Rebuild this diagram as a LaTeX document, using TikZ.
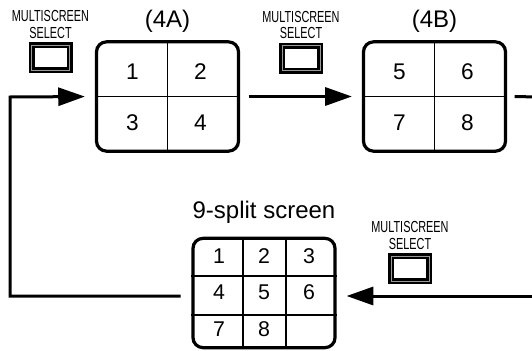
\documentclass[tikz,border=0pt]{standalone}
\usepackage{fontspec}
\setmainfont{Liberation Sans}
\usetikzlibrary{arrows.meta,positioning,calc}
\definecolor{MSRing}{HTML}{9A9A9A}
\newcommand{\selname}{\scalebox{0.68}[1]{MULTISCREEN}\\\scalebox{0.68}[1]{SELECT}}

\begin{document}
\begin{tikzpicture}[x=0.75pt,y=-0.75pt,
  screen/.style={draw,line width=2.4pt,rounded corners=7.5pt,inner sep=0pt,minimum width=106.5pt,minimum height=82pt},
  gridline/.style={line width=0.8pt},
  digit/.style={inner sep=0pt,font=\fontsize{17}{20}\selectfont},
  smalldigit/.style={inner sep=0pt,font=\fontsize{16}{19}\selectfont},
  title/.style={inner sep=0pt,font=\fontsize{18}{21}\selectfont},
  btnframe/.style={fill=black,inner sep=0pt,minimum width=33pt,minimum height=23.25pt},
  btnring/.style={draw=MSRing,line width=0.5pt,inner sep=0pt,minimum width=28.5pt,minimum height=18.75pt},
  btnface/.style={fill=white,inner sep=0pt,minimum width=24pt,minimum height=14.25pt},
  sellabel/.style={inner sep=0pt,align=center,font=\fontsize{12}{12.5}\selectfont},
  link/.style={line width=2.25pt,line join=miter},
  flow/.style={link,-{Triangle[length=20pt,width=13.5pt]},shorten >=7.5pt}]
\path[use as bounding box] (0,0) rectangle (532,350);
\clip (0,0) rectangle (532,350);

\node[screen] (scrA) at (167.5,96.5) {};
\node[screen] (scrB) at (434.5,96.5) {};
\node[screen] (scr9) at (264,293) {};
\draw[gridline] (scrA.north) -- (scrA.south) (scrA.west) -- (scrA.east);
\draw[gridline] (scrB.north) -- (scrB.south) (scrB.west) -- (scrB.east);
\draw[gridline] ($(scr9.north)+(-21,0)$) -- ($(scr9.south)+(-21,0)$);
\draw[gridline] ($(scr9.north)+(22,0)$) -- ($(scr9.south)+(22,0)$);
\draw[gridline] ($(scr9.west)+(0,-17)$) -- ($(scr9.east)+(0,-17)$);
\draw[gridline] ($(scr9.west)+(0,22)$) -- ($(scr9.east)+(0,22)$);

\foreach \d [count=\k from 0] in {1,2,3,4} {
  \pgfmathsetmacro{\cx}{-35+68*mod(\k,2)}
  \pgfmathsetmacro{\cy}{-25+51*int(\k/2)}
  \node[digit] (a\d) at ($(scrA)+(\cx,\cy)$) {\d};
}
\foreach \d [count=\k from 0] in {5,6,7,8} {
  \pgfmathsetmacro{\cx}{-35+68*mod(\k,2)}
  \pgfmathsetmacro{\cy}{-25+51*int(\k/2)}
  \node[digit] (b\d) at ($(scrB)+(\cx,\cy)$) {\d};
}
\foreach \d [count=\k from 0] in {1,...,8} {
  \pgfmathsetmacro{\cx}{-45+45*mod(\k,3)}
  \pgfmathsetmacro{\cy}{-37+36.5*int(\k/3)}
  \node[smalldigit] (n\d) at ($(scr9)+(\cx,\cy)$) {\d};
}

\node[title,above=5.5pt of scrA] (ttlA) {(4A)};
\node[title,above=5.5pt of scrB] (ttlB) {(4B)};
\node[title,above=10pt of scr9] (ttl9) {9-split screen};

\node[btnframe] (btnA) at (50.5,57.5) {};
\node[btnring] (ringA) at (btnA) {};
\node[btnface] (faceA) at (btnA) {};
\node[sellabel,above=2.25pt of btnA] (labA) {\selname};
\node[btnframe] (btnB) at (301,58) {};
\node[btnring] (ringB) at (btnB) {};
\node[btnface] (faceB) at (btnB) {};
\node[sellabel,above=2.25pt of btnB] (labB) {\selname};
\node[btnframe] (btnC) at (410,268.5) {};
\node[btnring] (ringC) at (btnC) {};
\node[btnface] (faceC) at (btnC) {};
\node[sellabel,above=2.25pt of btnC] (labC) {\selname};

\coordinate (loopL) at (10,97);
\coordinate (edgeT) at (545,97);
\coordinate (edgeB) at (545,296);
\draw[flow,shorten <=6.4pt] (scrA.east) -- (scrB.west);
\draw[link,shorten <=5.6pt] (scrB.east) -- (edgeT);
\draw[flow] (edgeB) -- (edgeB -| scr9.east);
\draw[flow,shorten <=8pt] (edgeB -| scr9.west) -| (loopL) -- (scrA.west);
\end{tikzpicture}
\end{document}
